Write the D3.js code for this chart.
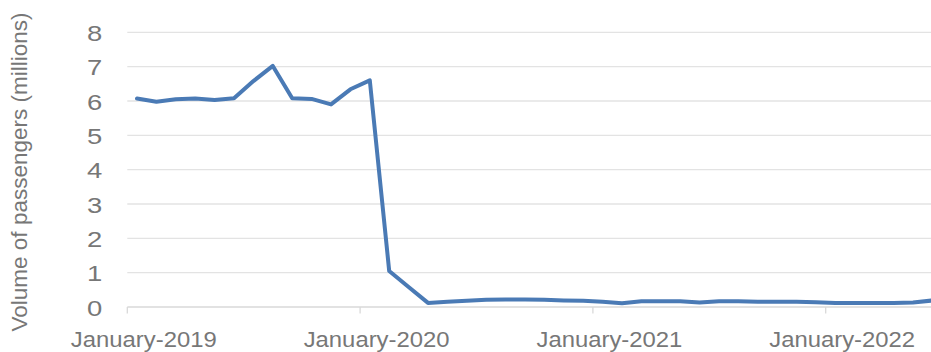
<!DOCTYPE html>
<html>
<head>
<meta charset="utf-8">
<script src="https://cdn.jsdelivr.net/npm/d3@7"></script>
<style>
  html, body { margin: 0; padding: 0; background: #fff; overflow: hidden; }
  svg { display: block; font-family: "Liberation Sans", Arial, sans-serif; }
</style>
</head>
<body>
<svg id="chart" width="931" height="352"></svg>
<script>
// Monthly passenger volumes, January 2019 – June 2022 (millions)
const months = d3.range(42).map(i => new Date(2019, i, 1));
const passengers = [
  6.07, 5.98, 6.05, 6.07, 6.03, 6.08, 6.58, 7.02, 6.08, 6.06, 5.90, 6.34,
  6.60, 1.05, 0.58, 0.12, 0.15, 0.18, 0.21, 0.22, 0.22, 0.21, 0.19, 0.18,
  0.15, 0.11, 0.17, 0.17, 0.17, 0.13, 0.17, 0.17, 0.15, 0.15, 0.15, 0.14,
  0.12, 0.12, 0.12, 0.12, 0.13, 0.19
];
const yTicks = [0, 1, 2, 3, 4, 5, 6, 7, 8];
const yTitle = "Volume of passengers (millions)";
const fmtLabel = d3.timeFormat("%B-%Y");

const svg = d3.select("#chart");
const plotLeft = 127.3, plotRight = 942.1, plotTop = 32.3, plotBottom = 307;
const gridRight = 931;
const textGrey = "#777777";

const x = d3.scaleBand().domain(months).range([plotLeft, plotRight]);
const y = d3.scaleLinear().domain([0, 8]).range([plotBottom, plotTop]);

// horizontal gridlines
svg.append("g")
  .selectAll("line")
  .data(yTicks.filter(t => t > 0))
  .join("line")
  .attr("x1", plotLeft).attr("x2", gridRight)
  .attr("y1", d => y(d)).attr("y2", d => y(d))
  .attr("stroke", "#e3e3e3").attr("stroke-width", 1.3);

// y-axis labels
const yAxis = d3.axisLeft(y).tickValues(yTicks).tickSize(0).tickPadding(0);
const gy = svg.append("g").attr("transform", `translate(${plotLeft - 25},0)`).call(yAxis);
gy.select(".domain").remove();
gy.selectAll("text")
  .attr("font-size", 22.5)
  .attr("font-family", "'Liberation Sans', Arial, sans-serif")
  .attr("fill", textGrey)
  .attr("dy", "0.36em")
  .attr("transform", "scale(1.22,1)")
  .attr("x", 0);

// category axis: baseline and yearly tick marks
svg.append("line")
  .attr("x1", plotLeft).attr("x2", gridRight)
  .attr("y1", plotBottom).attr("y2", plotBottom)
  .attr("stroke", "#d9d9d9").attr("stroke-width", 1.3);

const yearStarts = months.filter(d => d.getMonth() === 0);
svg.append("g")
  .selectAll("line")
  .data(yearStarts)
  .join("line")
  .attr("x1", d => x(d)).attr("x2", d => x(d))
  .attr("y1", plotBottom).attr("y2", plotBottom + 6.5)
  .attr("stroke", "#d9d9d9").attr("stroke-width", 1.3);

svg.append("g")
  .selectAll("text")
  .data(yearStarts)
  .join("text")
  .attr("transform", d => `translate(${x(d) + x.bandwidth() / 2 + 6.8},346.5) scale(1.11,1)`)
  .attr("text-anchor", "middle")
  .attr("font-size", 21.5)
  .attr("fill", textGrey)
  .text(d => fmtLabel(d));

// axis title
svg.append("text")
  .attr("transform", `translate(27,${(11 + 333) / 2}) rotate(-90)`)
  .attr("text-anchor", "middle")
  .attr("font-size", 22.5)
  .attr("fill", textGrey)
  .text(yTitle);

// series line
const line = d3.line()
  .x((d, i) => x(months[i]) + x.bandwidth() / 2)
  .y(d => y(d));

svg.append("path")
  .datum(passengers)
  .attr("d", line)
  .attr("fill", "none")
  .attr("stroke", "#4a7ab5")
  .attr("stroke-width", 4)
  .attr("stroke-linejoin", "round")
  .attr("stroke-linecap", "round");
</script>
</body>
</html>
